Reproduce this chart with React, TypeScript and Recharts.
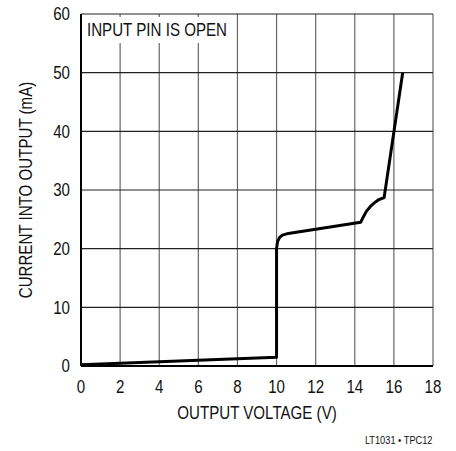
import { LineChart, Line, XAxis, YAxis, CartesianGrid, Label } from "recharts";

// output voltage (V) and current into output (mA)
const voltage = [0, 10, 10, 10.05, 10.15, 10.3, 10.6, 14.3, 14.45, 14.6, 14.8, 15.0, 15.2, 15.5, 16.45];
const current = [0.2, 1.5, 20, 21.2, 21.9, 22.3, 22.6, 24.5, 25.5, 26.4, 27.2, 27.8, 28.3, 28.7, 50];

const xTicks = [0, 2, 4, 6, 8, 10, 12, 14, 16, 18];
const yTicks = [0, 10, 20, 30, 40, 50, 60];

const data = voltage.map((v, i) => ({ v, ma: current[i] }));

const font = "'Liberation Sans', Arial, sans-serif";
const narrow = 0.84; // squeeze Arial-ish text toward a condensed face
const txt = { fontFamily: font, fontSize: 18, fill: "#111" };

const XTick = ({ x, y, payload }: any) => (
  <g transform={`translate(${x},${y})`}>
    <text transform={`scale(${narrow},1)`} textAnchor="middle" dy="0.71em" style={txt}>
      {payload.value}
    </text>
  </g>
);

const YTick = ({ x, y, payload }: any) => (
  <g transform={`translate(${x},${y})`}>
    <text transform={`scale(${narrow},1)`} textAnchor="end" dy="0.355em" style={txt}>
      {payload.value}
    </text>
  </g>
);

const XTitle = ({ viewBox }: any) => (
  <text
    transform={`translate(${viewBox.x + viewBox.width / 2},${viewBox.y + viewBox.height - 5}) scale(${narrow},1)`}
    textAnchor="middle"
    style={txt}
  >
    OUTPUT VOLTAGE (V)
  </text>
);

const YTitle = ({ viewBox }: any) => (
  <text
    transform={`translate(26,${viewBox.y + viewBox.height / 2}) rotate(-90) scale(${narrow},1)`}
    textAnchor="middle"
    dy="0.355em"
    style={txt}
  >
    CURRENT INTO OUTPUT (mA)
  </text>
);

export default function App() {
  return (
    <div style={{ position: "absolute", left: 0, top: 0, width: 456, height: 451, background: "#fff" }}>
      <LineChart
        width={456}
        height={451}
        data={data}
        margin={{ top: 14, right: 23, bottom: 27, left: 0 }}
      >
        <CartesianGrid horizontal={false} stroke="#666" strokeWidth={1.2} />
        <CartesianGrid vertical={false} stroke="#222" strokeWidth={1.2} />
        <XAxis
          dataKey="v"
          type="number"
          domain={[0, 18]}
          ticks={xTicks}
          tickLine={false}
          tickMargin={8}
          height={58}
          axisLine={{ stroke: "#000", strokeWidth: 2 }}
          tick={<XTick />}
          interval={0}
        >
          <Label content={<XTitle />} />
        </XAxis>
        <YAxis
          type="number"
          domain={[0, 60]}
          ticks={yTicks}
          width={81}
          tickLine={false}
          tickMargin={5}
          axisLine={{ stroke: "#000", strokeWidth: 2 }}
          tick={<YTick />}
          interval={0}
        >
          <Label content={<YTitle />} />
        </YAxis>
        <Line
          dataKey="ma"
          type="linear"
          stroke="#000"
          strokeWidth={3}
          strokeLinejoin="round"
          dot={false}
          isAnimationActive={false}
        />
      </LineChart>
      <div
        style={{
          position: "absolute",
          left: 82,
          top: 17,
          width: 154,
          height: 26,
          background: "#fff",
        }}
      >
        <div
          style={{
            fontFamily: font,
            fontSize: 18,
            lineHeight: "26px",
            color: "#111",
            marginLeft: 5,
            whiteSpace: "nowrap",
            transform: `scaleX(${narrow})`,
            transformOrigin: "left center",
          }}
        >
          INPUT PIN IS OPEN
        </div>
      </div>
      <div
        style={{
          position: "absolute",
          right: 24,
          top: 435,
          fontFamily: font,
          fontSize: 11,
          lineHeight: "11px",
          color: "#111",
          whiteSpace: "nowrap",
          transform: `scaleX(${narrow})`,
          transformOrigin: "right center",
        }}
      >
        LT1031 • TPC12
      </div>
    </div>
  );
}
